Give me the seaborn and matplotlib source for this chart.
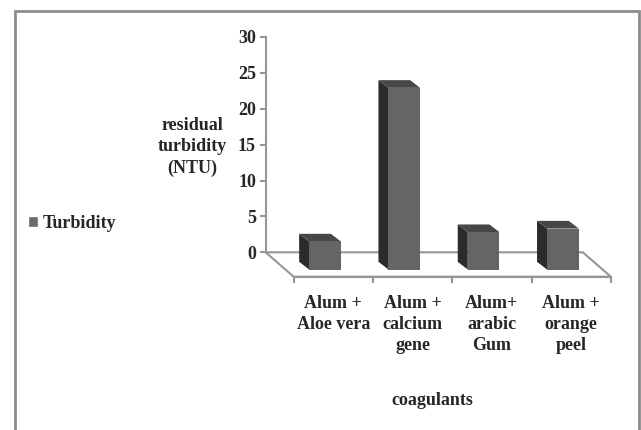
import matplotlib
matplotlib.use("Agg")
import matplotlib.pyplot as plt
from matplotlib.patches import Polygon, Rectangle, Patch
import seaborn as sns
import pandas as pd

# ---- data -------------------------------------------------------------
coagulants = ["Alum +\nAloe vera", "Alum +\ncalcium\ngene", "Alum+\narabic\nGum", "Alum +\norange\npeel"]
turbidity = [3.9, 25.3, 5.2, 5.7]
y_ticks = [0, 5, 10, 15, 20, 25, 30]
series_name = "Turbidity"

# ---- style ------------------------------------------------------------
sns.set_style("white")
plt.rcParams["font.family"] = ["Liberation Serif", "DejaVu Serif"]
plt.rcParams["font.weight"] = "bold"
FS = 13
FRONT = "#656565"
SIDE = "#2b2b2b"
TOP = "#474747"
LINE = "#969696"

W, H = 641, 430
fig = plt.figure(figsize=(W / 100, H / 100), dpi=100)

# axes box (pixels) and the pixel size of one category / one NTU
box_l, box_r, box_t, box_b = 240, 625, 25, 285
px_cat, px_val = 79.3, 7.18
x0_px, y0_px = 325, 269.5          # pixel of category 0 centre, value 0 (bar front plane)

ax = fig.add_axes([box_l / W, 1 - box_b / H, (box_r - box_l) / W, (box_b - box_t) / H])

df = pd.DataFrame({"coagulant": coagulants, "turbidity": turbidity})
sns.barplot(data=df, x="coagulant", y="turbidity", color=FRONT, width=0.4,
            saturation=1, ax=ax, zorder=3, linewidth=0)

ax.set_xlim((box_l - x0_px) / px_cat, (box_r - x0_px) / px_cat)
ax.set_ylim((y0_px - box_b) / px_val, (y0_px - box_t) / px_val)

# depth vectors: bar depth and full floor depth (in data units)
bar_dx, bar_dy = -10 / px_cat, 7.7 / px_val
floor_dx, floor_dy = -28 / px_cat, 24.4 / px_val
front_dx, front_dy = 8.3 / px_cat, -7.2 / px_val      # floor front edge vs. bar front
n = len(coagulants)

fl_x0, fl_y0 = -0.5 + front_dx, front_dy
fl_x1 = n - 0.5 + front_dx
bk_x0, bk_y0 = fl_x0 + floor_dx, fl_y0 + floor_dy
bk_x1 = fl_x1 + floor_dx

floor = Polygon([(fl_x0, fl_y0), (fl_x1, fl_y0), (bk_x1, bk_y0), (bk_x0, bk_y0)],
                closed=True, facecolor="white", edgecolor=LINE, lw=1.5, zorder=1)
ax.add_patch(floor)

# side and top faces of each column
for bar in list(ax.patches):
    if bar is floor:
        continue
    x0 = bar.get_x()
    x1 = x0 + bar.get_width()
    h = bar.get_height()
    side = Polygon([(x0, 0), (x0, h), (x0 + bar_dx, h + bar_dy), (x0 + bar_dx, bar_dy)],
                   closed=True, facecolor=SIDE, edgecolor="none", zorder=2)
    top = Polygon([(x0, h), (x1, h), (x1 + bar_dx, h + bar_dy), (x0 + bar_dx, h + bar_dy)],
                  closed=True, facecolor=TOP, edgecolor="none", zorder=2)
    ax.add_patch(side)
    ax.add_patch(top)

# value axis on the back wall
for s in ("top", "right"):
    ax.spines[s].set_visible(False)
ax.spines["left"].set_position(("data", bk_x0))
ax.spines["left"].set_bounds(bk_y0, bk_y0 + y_ticks[-1])
ax.spines["left"].set_color(LINE)
ax.spines["left"].set_linewidth(1.5)
ax.set_yticks([bk_y0 + t for t in y_ticks], labels=[str(t) for t in y_ticks])
ax.tick_params(axis="y", direction="out", length=4, width=1.5, color=LINE,
               pad=3, labelsize=FS, left=True)

# category axis on the floor front edge
ax.spines["bottom"].set_position(("data", fl_y0))
ax.spines["bottom"].set_bounds(fl_x0, fl_x1)
ax.spines["bottom"].set_color(LINE)
ax.spines["bottom"].set_linewidth(1.5)
ax.set_xticks([fl_x0 + k for k in range(n + 1)], labels=[""] * (n + 1))
ax.tick_params(axis="x", which="major", direction="out", length=4, width=1.5,
               color=LINE, bottom=True)
ax.set_xticks([i + front_dx for i in range(n)], labels=coagulants, minor=True)
ax.tick_params(axis="x", which="minor", length=0, pad=13, labelsize=FS)
for t in ax.get_xticklabels(minor=True):
    t.set_multialignment("center")
    t.set_linespacing(1.33)

ax.set_xlabel("coagulants", fontsize=FS, fontweight="bold", labelpad=27)
ax.set_ylabel("residual\nturbidity\n(NTU)", fontsize=FS, fontweight="bold",
              rotation=0, ha="center", va="center", linespacing=1.33)
ax.yaxis.set_label_coords((192 - box_l) / (box_r - box_l), (box_b - 147) / (box_b - box_t))

# legend
fig.legend(handles=[Patch(facecolor="#6b6b6b", label=series_name)],
           loc="center left", bbox_to_anchor=(28 / W, 1 - 223 / H), frameon=False,
           fontsize=FS, handlelength=0.55, handleheight=0.55, handletextpad=0.25,
           borderpad=0, borderaxespad=0)

# chart-area border
fig.add_artist(Rectangle((14.5 / W, -0.05), (639 - 14.5) / W, 1.05 - 11 / H,
                         transform=fig.transFigure, fill=False, edgecolor="#8c8c8c",
                         lw=2, zorder=10))

fig.savefig("out.png", dpi=100)
